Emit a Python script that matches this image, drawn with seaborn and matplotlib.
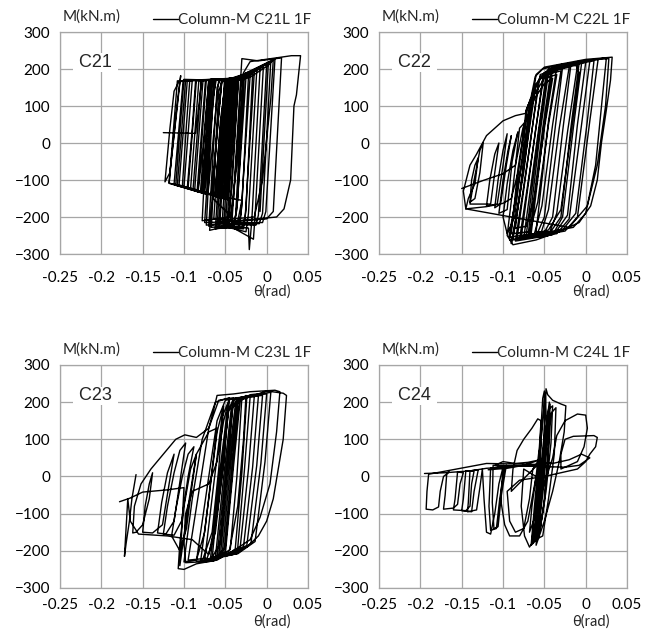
import matplotlib
matplotlib.use('Agg')
import matplotlib.pyplot as plt
import pandas as pd
import seaborn as sns

# ---- data: (theta [rad], M [kN.m]) vertices ----
c21_points = [
    (-0.125, 28), (-0.086, 26),
    (-0.082, 100), (-0.079, 168), (-0.050, 172), (-0.056, 40), (-0.063, -140), (-0.096, -121),
    (-0.090, 40), (-0.086, 168), (-0.045, 172), (-0.052, 20), (-0.058, -144), (-0.102, -118),
    (-0.097, 50), (-0.093, 170), (-0.040, 174), (-0.046, 0), (-0.052, -148), (-0.110, -114),
    (-0.104, 60), (-0.100, 172), (-0.066, 170), (-0.072, -20), (-0.077, -136), (-0.118, -108),
    (-0.116, -60), (-0.104, 182), (-0.107, 130), (-0.117, -80), (-0.123, -105),
    (-0.117, 40), (-0.112, 140), (-0.106, 166), (-0.070, 171), (-0.077, -10), (-0.083, -132),
    (-0.118, -109), (-0.108, 168), (-0.066, 171), (-0.079, -134),
    (-0.112, -111), (-0.101, 169), (-0.062, 172), (-0.075, -137),
    (-0.106, -114), (-0.096, 169), (-0.058, 171), (-0.071, -139),
    (-0.100, -118), (-0.090, 170), (-0.054, 172), (-0.067, -141),
    (-0.095, -120), (-0.085, 170), (-0.049, 171), (-0.062, -143),
    (-0.092, -122), (-0.082, 169), (-0.047, 172), (-0.060, -145),
    (-0.089, -124), (-0.079, 170), (-0.044, 173), (-0.056, -148),
    (-0.087, -125), (-0.077, 170), (-0.043, 173), (-0.055, -149),
    (-0.084, -127), (-0.074, 170), (-0.041, 173), (-0.053, -150),
    (-0.083, -128), (-0.073, 170), (-0.039, 174), (-0.051, -151),
    (-0.080, -130), (-0.070, 171), (-0.037, 174), (-0.049, -152),
    (-0.078, -131), (-0.068, 170), (-0.035, 175), (-0.047, -153),
    (-0.108, -112), (-0.098, 170), (-0.064, 171), (-0.076, -136), (-0.030, -155),
    (-0.035, -212), (-0.075, -215), (-0.066, 100), (-0.062, 172), (-0.030, 176), (-0.040, -150), (-0.044, -212),
    (-0.070, -225), (-0.060, 150), (-0.056, 172), (-0.025, 178), (-0.036, -180), (-0.040, -220),
    (-0.069, -236), (-0.055, 165), (-0.020, 182), (-0.031, -190), (-0.034, -225),
    (-0.062, -232), (-0.051, 170), (-0.015, 190), (-0.026, -200), (-0.030, -228),
    (-0.058, -225), (-0.047, 172), (-0.008, 200), (-0.018, -210), (-0.021, -288), (-0.022, -230),
    (-0.054, -222), (-0.043, 172), (0.000, 212), (-0.010, -195), (-0.013, -222),
    (-0.050, -220), (-0.038, 175), (0.005, 222), (-0.005, -190), (-0.009, -218),
    (-0.046, -218), (-0.034, 178), (0.010, 226), (-0.001, -185), (-0.005, -215),
    (-0.042, -215), (-0.030, 228), (-0.010, 222), (0.018, 230), (0.008, -185), (0.000, -205),
    (-0.038, -212), (-0.028, 190), (-0.020, 220), (0.030, 236), (0.041, 236), (0.036, 130),
    (0.033, 100), (0.029, -100), (0.021, -178), (0.012, -200), (-0.035, -210),
    (-0.064, -206), (-0.056, 60), (-0.050, 160), (-0.020, 178), (0.002, 210), (0.008, 225),
    (0.005, 120), (-0.005, -100), (-0.015, -200), (-0.040, -205), (-0.065, -150),
    (-0.060, 40), (-0.054, 172), (-0.028, 175), (-0.036, -60), (-0.044, -200),
    (-0.078, -210), (-0.072, 60), (-0.068, 172), (-0.034, 176), (-0.042, -120), (-0.047, -215),
    (-0.073, -222), (-0.065, 120), (-0.061, 171), (-0.027, 178), (-0.035, -150), (-0.039, -222),
    (-0.067, -228), (-0.058, 140), (-0.053, 172), (-0.022, 181), (-0.030, -170), (-0.033, -226),
    (-0.060, -230), (-0.050, 160), (-0.046, 173), (-0.017, 186), (-0.025, -180), (-0.028, -232),
    (-0.057, -228), (-0.045, 170), (-0.012, 195), (-0.022, -190), (-0.025, -240),
    (-0.052, -225), (-0.041, 172), (-0.004, 205), (-0.014, -195), (-0.016, -260),
    (-0.048, -220), (-0.036, 176), (0.002, 215), (-0.008, -185),
]

c22_points = [
    (-0.150, -123), (-0.125, -102), (-0.100, -83), (-0.085, -60),
    (-0.076, 40), (-0.062, 120), (-0.050, 160), (-0.040, 175), (-0.050, 40), (-0.062, -150), (-0.072, -225),
    (-0.085, -230), (-0.075, -50), (-0.068, 110), (-0.050, 175), (-0.035, 185), (-0.045, 50), (-0.058, -160), (-0.068, -240),
    (-0.090, -245), (-0.082, -70), (-0.070, 100), (-0.055, 180), (-0.030, 195), (-0.040, 50), (-0.053, -170), (-0.062, -245),
    (-0.093, -255), (-0.076, -40), (-0.064, 140), (-0.050, 190), (-0.020, 205), (-0.032, 40), (-0.045, -180), (-0.055, -250),
    (-0.088, -262), (-0.072, -20), (-0.060, 160), (-0.045, 200), (-0.010, 210), (-0.022, 30), (-0.035, -190), (-0.045, -250),
    (-0.085, -265), (-0.067, 0), (-0.057, 170), (-0.040, 205), (-0.005, 215), (-0.015, 40), (-0.028, -200), (-0.040, -248),
    (-0.080, -260), (-0.062, 10), (-0.052, 175), (-0.030, 210), (0.005, 222), (-0.005, 50), (-0.020, -205), (-0.035, -245),
    (-0.075, -258), (-0.058, 20), (-0.048, 180), (-0.020, 215), (0.015, 226), (0.005, 60), (-0.010, -200), (-0.025, -238),
    (-0.070, -255), (-0.055, 30), (-0.045, 190), (-0.010, 220), (0.025, 230), (0.020, 120), (0.012, -60), (0.000, -190), (-0.015, -228),
    (-0.068, -250), (-0.052, 40), (-0.042, 195), (-0.012, 212), (-0.008, 190), (-0.018, 20), (-0.030, -180), (-0.045, -235),
    (-0.083, -258), (-0.066, 20), (-0.055, 185), (-0.028, 205), (-0.038, 20), (-0.050, -200), (-0.060, -252),
    (-0.078, -255), (-0.061, 30), (-0.050, 190), (-0.018, 210), (-0.028, 30), (-0.040, -200), (-0.052, -250),
    (-0.072, -250), (-0.056, 40), (-0.046, 195), (-0.008, 215), (-0.018, 40), (-0.030, -200), (-0.044, -245),
    (-0.066, -245), (-0.050, 50), (-0.040, 200), (0.000, 218), (-0.010, 50), (-0.022, -195), (-0.036, -240),
    (-0.060, -240), (-0.045, 60), (-0.035, 205), (0.010, 222), (0.002, 60), (-0.012, -190), (-0.028, -235),
    (-0.092, -262), (-0.085, -150), (-0.078, -20), (-0.072, 90), (-0.066, 120), (-0.072, 0), (-0.080, -150), (-0.088, -250),
    (-0.090, -272), (-0.075, -80), (-0.065, 110), (-0.060, 185), (-0.050, 205), (0.000, 226), (0.032, 232),
    (0.030, 170), (0.025, 90), (0.019, 0), (0.014, -100), (0.006, -170), (-0.008, -215), (-0.030, -238), (-0.060, -262), (-0.088, -275),
    (-0.095, -250), (-0.088, -120), (-0.080, 40), (-0.072, 60), (-0.078, -60), (-0.086, -200), (-0.095, -245),
    (-0.100, -200), (-0.095, -110), (-0.088, -20), (-0.082, 30), (-0.089, -50), (-0.095, -180),
    (-0.105, -190), (-0.100, -100), (-0.094, -20), (-0.090, 20), (-0.096, -60), (-0.103, -165),
    (-0.110, -175), (-0.106, -100), (-0.100, -20), (-0.095, 25), (-0.100, -60), (-0.107, -165),
    (-0.120, -170), (-0.116, -100), (-0.110, -30), (-0.105, 0), (-0.110, -80), (-0.115, -165),
    (-0.140, -165), (-0.135, -100), (-0.128, -20), (-0.124, 0), (-0.128, -80), (-0.134, -150), (-0.140, -160),
    (-0.138, -100), (-0.134, -60), (-0.130, -40), (-0.134, -110), (-0.142, -150),
    (-0.145, -178), (-0.148, -130), (-0.140, -60), (-0.132, -30), (-0.120, 20), (-0.100, 60), (-0.085, 74),
    (-0.073, 80), (-0.066, 125), (-0.061, 180), (-0.052, 200), (-0.030, 212), (0.010, 225), (0.028, 228),
    (0.024, 100), (0.014, -60), (0.002, -170), (-0.020, -228),
    (-0.145, -178), (-0.120, -172), (-0.100, -163), (-0.090, -150), (-0.082, -80),
]

c23_points = [
    (-0.178, -68), (-0.165, -58), (-0.150, -42), (-0.120, -36), (-0.100, -30),
    (-0.105, -240), (-0.095, -80), (-0.085, 60), (-0.070, 120), (-0.060, 130), (-0.066, 20), (-0.075, -150), (-0.085, -225),
    (-0.100, -230), (-0.090, -60), (-0.078, 100), (-0.062, 200), (-0.045, 212), (-0.052, 40), (-0.062, -150), (-0.072, -220),
    (-0.095, -225), (-0.082, -40), (-0.070, 130), (-0.058, 205), (-0.040, 212), (-0.048, 20), (-0.056, -180), (-0.068, -225),
    (-0.085, -228), (-0.072, -30), (-0.060, 150), (-0.050, 205), (-0.035, 210), (-0.042, 0), (-0.050, -190), (-0.062, -222),
    (-0.075, -225), (-0.064, -20), (-0.054, 160), (-0.045, 208), (-0.030, 212), (-0.036, 0), (-0.044, -195), (-0.056, -220),
    (-0.068, -222), (-0.058, -10), (-0.048, 170), (-0.040, 210), (-0.024, 214), (-0.030, 10), (-0.038, -195), (-0.050, -215),
    (-0.066, -220), (-0.056, 0), (-0.046, 175), (-0.038, 210), (-0.020, 214), (-0.027, 15), (-0.035, -192), (-0.047, -213),
    (-0.062, -218), (-0.052, 0), (-0.043, 180), (-0.035, 212), (-0.015, 215), (-0.022, 20), (-0.032, -190), (-0.044, -212),
    (-0.060, -217), (-0.050, 5), (-0.041, 185), (-0.032, 213), (-0.010, 216), (-0.017, 25), (-0.028, -188), (-0.042, -211),
    (-0.058, -215), (-0.048, 10), (-0.038, 190), (-0.030, 214), (-0.005, 218), (-0.012, 30), (-0.024, -185), (-0.040, -210),
    (-0.056, -213), (-0.046, 15), (-0.036, 195), (-0.026, 216), (0.000, 222), (-0.007, 35), (-0.019, -180), (-0.037, -209),
    (-0.054, -212), (-0.044, 20), (-0.035, 200), (-0.020, 220), (0.005, 226), (-0.002, 40), (-0.014, -175), (-0.035, -208),
    (-0.052, -210), (-0.042, 25), (-0.033, 202), (-0.025, 218), (-0.028, 100), (-0.035, -80), (-0.045, -200),
    (-0.080, -230), (-0.070, -60), (-0.060, 120), (-0.052, 190), (-0.058, 20), (-0.066, -150), (-0.078, -228),
    (-0.050, -208), (-0.040, 30), (-0.032, 205), (0.000, 230), (0.020, 224), (0.024, 218), (0.020, 100),
    (0.014, 20), (0.008, -60), (0.000, -120), (-0.010, -160), (-0.024, -190), (-0.045, -205),
    (-0.060, -225), (-0.085, -235), (-0.100, -250), (-0.107, -248),
    (-0.105, -180), (-0.100, -80), (-0.092, 20), (-0.085, 60), (-0.090, -20), (-0.097, -140), (-0.105, -200),
    (-0.115, -160), (-0.110, -90), (-0.102, 0), (-0.095, 60), (-0.088, 80), (-0.095, 0), (-0.103, -120), (-0.112, -158),
    (-0.125, -155), (-0.120, -80), (-0.112, 10), (-0.105, 70), (-0.098, 90), (-0.104, 0), (-0.112, -120), (-0.122, -155),
    (-0.132, -152), (-0.127, -70), (-0.120, 10), (-0.112, 60), (-0.118, -20), (-0.126, -130), (-0.138, -152),
    (-0.150, -150), (-0.147, -80), (-0.142, -20), (-0.138, 10), (-0.142, -60), (-0.150, -130), (-0.158, -150),
    (-0.162, -152), (-0.160, -80), (-0.152, -20), (-0.140, 20), (-0.125, 60), (-0.110, 100), (-0.099, 112),
    (-0.085, 105), (-0.070, 130), (-0.064, 180), (-0.060, 218), (-0.040, 222), (-0.020, 228), (0.010, 232), (0.016, 228),
    (0.012, 120), (0.004, -20), (-0.008, -110), (-0.020, -170), (-0.040, -200), (-0.065, -228), (-0.098, -232),
    (-0.100, -180), (-0.098, -100), (-0.090, -40), (-0.070, -20), (-0.060, 40), (-0.052, 150), (-0.046, 200),
    (-0.052, 40), (-0.060, -100), (-0.070, -210), (-0.090, -170), (-0.120, -160), (-0.155, -155),
    (-0.165, -120), (-0.168, -60), (-0.172, -215), (-0.170, -180), (-0.166, -120), (-0.163, -60), (-0.160, -20), (-0.158, 5),
]

c24_points = [
    (-0.195, 8), (-0.170, 10), (-0.140, 15), (-0.120, 22), (-0.100, 25), (-0.080, 28), (-0.060, 30), (-0.050, 32),
    (-0.120, 35), (-0.190, 6),
    (-0.192, -40), (-0.193, -88), (-0.185, -90), (-0.178, -82), (-0.176, -40), (-0.172, 0), (-0.165, 12),
    (-0.168, 10), (-0.170, -50), (-0.172, -88), (-0.160, -85), (-0.155, -75), (-0.152, -20), (-0.148, 10),
    (-0.155, 12), (-0.158, -60), (-0.160, -90), (-0.145, -92), (-0.140, -80), (-0.138, -20), (-0.135, 15),
    (-0.145, 15), (-0.148, -60), (-0.150, -92), (-0.138, -95), (-0.135, -40), (-0.130, 18),
    (-0.140, 15), (-0.142, -70), (-0.143, -95), (-0.132, -90), (-0.128, -30), (-0.125, 20),
    (-0.123, -60), (-0.120, -150), (-0.115, -155), (-0.110, -100), (-0.105, -20), (-0.100, 25),
    (-0.115, 22), (-0.117, -80), (-0.115, -145), (-0.108, -140), (-0.104, -60), (-0.098, 25),
    (-0.112, 30), (-0.113, -70), (-0.111, -140), (-0.106, -135), (-0.102, -50), (-0.096, 30),
    (-0.100, 20), (-0.103, -60), (-0.098, -130), (-0.092, -160), (-0.080, -160), (-0.070, -120), (-0.065, -60), (-0.060, 0),
    (-0.075, 20), (-0.078, -80), (-0.074, -160), (-0.068, -190), (-0.062, -170), (-0.058, -100), (-0.055, -20), (-0.050, 50),
    (-0.090, -40), (-0.088, 20), (-0.083, 70), (-0.075, 100), (-0.065, 130), (-0.058, 155), (-0.054, 150),
    (-0.056, 80), (-0.060, 0), (-0.065, -80), (-0.068, -150),
    (-0.060, -100), (-0.055, 0), (-0.050, 120), (-0.048, 236), (-0.046, 220), (-0.040, 205), (-0.030, 195), (-0.024, 190),
    (-0.026, 120), (-0.032, 40), (-0.040, -40), (-0.050, -120), (-0.060, -185),
    (-0.058, -120), (-0.052, 0), (-0.047, 150), (-0.044, 200), (-0.046, 100), (-0.052, -50), (-0.058, -150),
    (-0.054, -60), (-0.049, 60), (-0.045, 180), (-0.040, 190), (-0.042, 90), (-0.048, -40), (-0.055, -140),
    (-0.050, -60), (-0.046, 40), (-0.042, 170), (-0.036, 185), (-0.038, 60), (-0.045, -60), (-0.052, -160),
    (-0.065, -175), (-0.060, -60), (-0.056, 60), (-0.052, 210), (-0.050, 230), (-0.050, 100), (-0.056, -40), (-0.064, -180),
    (-0.062, -170), (-0.058, -40), (-0.054, 100), (-0.049, 225), (-0.047, 120), (-0.053, -30), (-0.060, -170),
    (-0.056, -150), (-0.053, -20), (-0.048, 130), (-0.043, 195), (-0.045, 80), (-0.050, -70), (-0.057, -165),
    (-0.066, -185), (-0.062, -80), (-0.057, 40), (-0.053, 140), (-0.055, 40), (-0.060, -90),
    (-0.040, 50), (-0.035, 110), (-0.025, 150), (-0.010, 168), (0.000, 165), (0.002, 130), (-0.002, 80), (-0.010, 40), (-0.030, 20),
    (-0.030, 60), (-0.025, 100), (-0.015, 108), (0.010, 110), (0.014, 105), (0.012, 80), (0.005, 60),
    (0.000, 40), (-0.010, 20), (-0.030, 10), (-0.050, 0),
    (-0.080, -10), (-0.095, -40), (-0.092, -120), (-0.085, -150), (-0.075, -140), (-0.068, -60), (-0.064, 20), (-0.058, 40),
    (-0.040, 35), (-0.020, 45), (-0.005, 60), (0.005, 50), (-0.008, 30), (-0.025, 25),
    (-0.110, 30), (-0.100, 40), (-0.085, 35), (-0.070, 38), (-0.055, 45),
    (-0.075, 30), (-0.095, 22), (-0.118, 18),
]

panels = [
    ('C21', 'Column-M C21L 1F', c21_points),
    ('C22', 'Column-M C22L 1F', c22_points),
    ('C23', 'Column-M C23L 1F', c23_points),
    ('C24', 'Column-M C24L 1F', c24_points),
]

x_ticks = [-0.25, -0.2, -0.15, -0.1, -0.05, 0, 0.05]
x_tick_labels = ['-0.25', '-0.2', '-0.15', '-0.1', '-0.05', '0', '0.05']
y_ticks = [-300, -200, -100, 0, 100, 200, 300]

sns.set_theme(style='white')
plt.rcParams['font.family'] = ['Lato', 'DejaVu Sans']

fig = plt.figure(figsize=(6.57, 6.30), dpi=100)
grid_col = '#a6a6a6'

# axes rectangles in figure fractions (left, bottom, width, height)
rects = [
    (0.0913, 0.5968, 0.3775, 0.3524),
    (0.5769, 0.5968, 0.3775, 0.3524),
    (0.0913, 0.0667, 0.3775, 0.3540),
    (0.5769, 0.0667, 0.3775, 0.3540),
]

for i, ((name, label, pts), rect) in enumerate(zip(panels, rects)):
    ax = fig.add_axes(rect)
    df = pd.DataFrame(pts, columns=['theta', 'M'])
    sns.lineplot(data=df, x='theta', y='M', sort=False, estimator=None,
                 color='black', linewidth=1.0, ax=ax, label=label)
    ax.set_xlim(-0.25, 0.05)
    ax.set_ylim(-300, 300)
    ax.set_xticks(x_ticks)
    ax.set_xticklabels(x_tick_labels)
    ax.set_yticks(y_ticks)
    ax.set_xlabel('')
    ax.set_ylabel('')
    ax.grid(True, color=grid_col, linewidth=0.9)
    ax.set_axisbelow(True)
    for s in ax.spines.values():
        s.set_color(grid_col)
        s.set_linewidth(0.9)
    bottom_row = i >= 2
    ax.tick_params(axis='x', length=0, pad=7 if bottom_row else 12, labelsize=11, colors='black')
    ax.tick_params(axis='y', length=0, pad=7, labelsize=11, colors='black')

    ax.legend(loc='lower right', bbox_to_anchor=(1.03, 1.0), frameon=False,
              handlelength=1.6, handletextpad=0.0, fontsize=11, borderaxespad=0.1,
              borderpad=0.2)
    ax.text(0.012, 1.07, 'M(kN.m)', transform=ax.transAxes, ha='left', va='center', fontsize=11)
    if bottom_row:
        # bottom row: label sits right at the lower edge of the figure
        fig.text(rect[0] + 0.855 * rect[2], 0.002, 'θ(rad)', ha='center', va='bottom', fontsize=10.5)
    else:
        ax.text(0.855, -0.17, 'θ(rad)', transform=ax.transAxes, ha='center', va='center', fontsize=10.5)
    ax.text(-0.207, 217, ' ' + name + ' ', ha='center', va='center', fontsize=13,
            family=['Liberation Sans', 'DejaVu Sans'],
            bbox=dict(facecolor='white', edgecolor='none', pad=0.5))

fig.savefig('out.png', dpi=100)
